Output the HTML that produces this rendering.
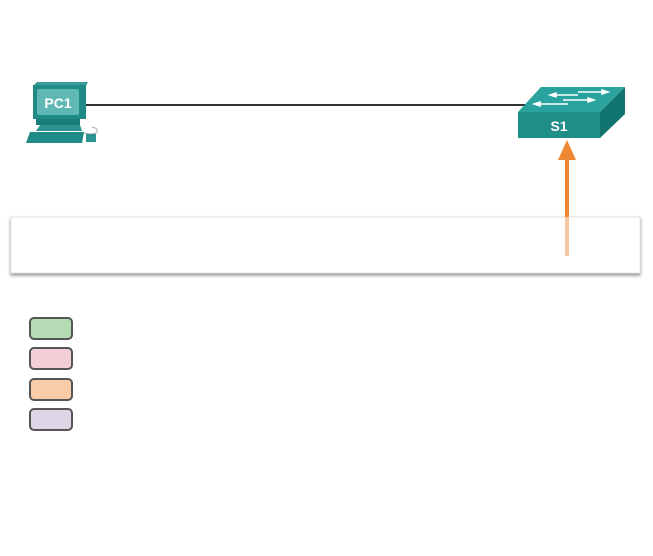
<!DOCTYPE html>
<html><head><style>
html,body{margin:0;padding:0;background:#fff;width:653px;height:556px;overflow:hidden;font-family:"Liberation Sans",sans-serif}
</style></head><body>
<svg width="653" height="556" xmlns="http://www.w3.org/2000/svg">
<defs>
<filter id="sh" x="-5%" y="-20%" width="110%" height="150%"><feDropShadow dx="0" dy="2" stdDeviation="1.5" flood-color="#000" flood-opacity="0.45"/></filter>
</defs>
<rect x="11" y="217" width="629" height="56" fill="#fff" stroke="#e4e4e4" filter="url(#sh)"/>
<line x1="85" y1="105" x2="540" y2="105" stroke="#333" stroke-width="2"/>
<!-- PC -->
<path d="M92 127 q8 2 4 6 q-6 2-12 0" fill="none" stroke="#aaa" stroke-width="1"/>
<polygon points="33,86 37,82 88,82 86,86" fill="#3a9c98"/>
<rect x="33" y="85" width="53" height="34" fill="#1f8a86"/>
<rect x="37" y="89" width="42" height="26" rx="2" fill="#5fb8b3"/>
<text x="58" y="108" font-size="14" font-weight="bold" fill="#fff" text-anchor="middle">PC1</text>
<rect x="36" y="119" width="44" height="6" fill="#1a7c78"/>
<polygon points="40,125 80,125 82,131 36,131" fill="#2c9490"/>
<polygon points="30,132 84,132 82,143 26,143" fill="#1f8a86"/>
<rect x="86" y="134" width="10" height="8" fill="#2c9490"/>
<!-- switch -->
<polygon points="518,112 541,87 625,87 600,112" fill="#2aa39e"/>
<polygon points="600,112 625,87 625,114 600,138" fill="#127470"/>
<rect x="518" y="112" width="82" height="26" fill="#1f8e89"/>
<g stroke="#fff" stroke-width="1.5" fill="#fff">
<line x1="555" y1="95" x2="578" y2="95"/><polygon points="550,95 556,93 556,97"/>
<line x1="578" y1="92" x2="604" y2="92"/><polygon points="608,92 602,90 602,94"/>
<line x1="563" y1="100" x2="590" y2="100"/><polygon points="594,100 588,98 588,102"/>
<line x1="540" y1="104" x2="568" y2="104"/><polygon points="534,104 540,102 540,106"/>
</g>
<text x="559" y="131" font-size="14" font-weight="bold" fill="#fff" text-anchor="middle">S1</text>
<!-- arrow -->
<line x1="567" y1="217" x2="567" y2="256" stroke="#f6c9a3" stroke-width="4"/>
<line x1="567" y1="217" x2="567" y2="155" stroke="#ed8733" stroke-width="4"/>
<polygon points="567,140 558,160 576,160" fill="#ed8733"/>
<!-- legend -->
<rect x="30" y="318" width="42" height="21" rx="4" fill="#b5dbb5" stroke="#555" stroke-width="2"/>
<rect x="30" y="348" width="42" height="21" rx="4" fill="#f3d0d8" stroke="#555" stroke-width="2"/>
<rect x="30" y="379" width="42" height="21" rx="4" fill="#f9cba6" stroke="#555" stroke-width="2"/>
<rect x="30" y="409" width="42" height="21" rx="4" fill="#ddd4e6" stroke="#555" stroke-width="2"/>
</svg>
</body></html>
